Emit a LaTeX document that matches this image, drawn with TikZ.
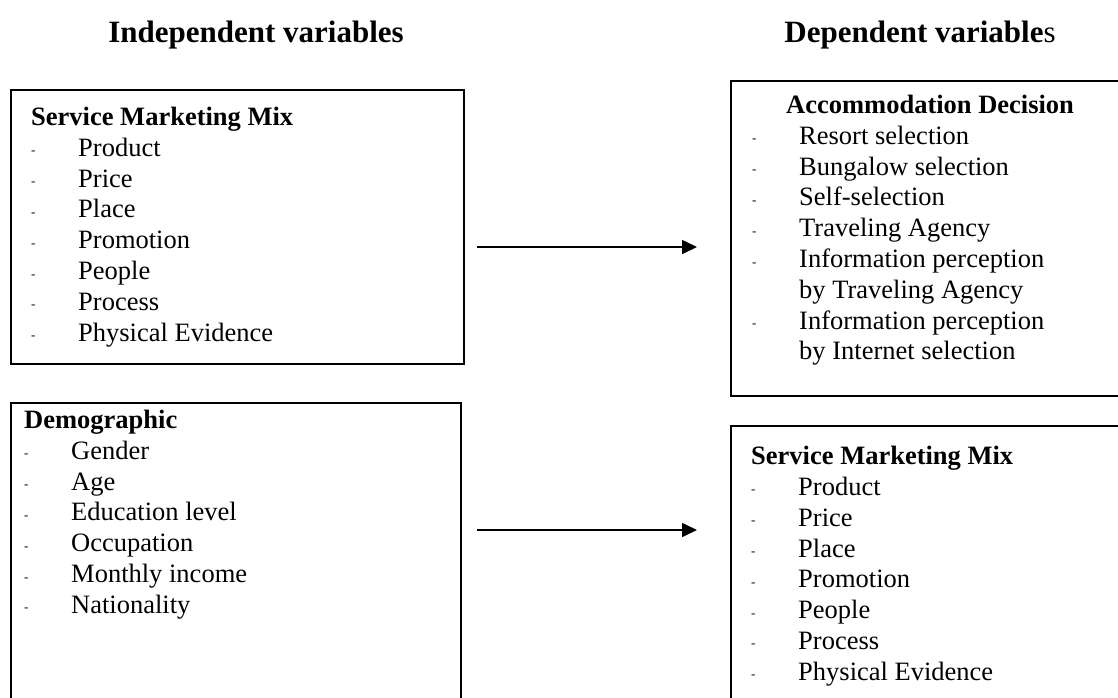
\documentclass[tikz,border=0pt]{standalone}
\usepackage{fontspec}
\setmainfont{Liberation Serif}
\usetikzlibrary{arrows.meta}

% list item: small dash, then the text
\newcommand{\itm}[1]{\makebox[47pt][l]{\raisebox{1.5pt}{\fontsize{13}{13}\selectfont -}}#1}
\newcommand{\cont}[1]{\hspace*{47pt}#1}

\tikzset{
  frame/.style={draw, line width=1.6pt, rectangle, inner sep=0pt, anchor=north west},
  heading/.style={font=\fontsize{31}{36}\selectfont\bfseries, inner sep=0pt},
  list/.style={font=\fontsize{26.5}{30.8}\selectfont, align=left, inner sep=0pt, anchor=north west},
  arr/.style={-{Triangle[length=15pt,width=14pt]}, line width=1.6pt},
}

\begin{document}
\begin{tikzpicture}[x=1pt,y=-1pt]
    \useasboundingbox (0,0) rectangle (1118,697);

    % headings
    \node[heading, anchor=base] (indep) at (256,42) {Independent variables};
    \node[heading, anchor=base] (dep) at (920,42) {Dependent variable\textmd{s}};

    % boxes
    \node[frame, minimum width=453pt, minimum height=274pt] (smm) at (10,89) {};
    \node[frame, minimum width=395pt, minimum height=315pt] (acc) at (730,80) {};
    \node[frame, minimum width=450pt, minimum height=303pt] (dem) at (10,402) {};
    \node[frame, minimum width=395pt, minimum height=280pt] (smm2) at (730,425) {};

    % box texts
    \node[list] (smmtxt) at (31,107) {\textbf{Service Marketing Mix}\\
        \itm{Product}\\ \itm{Price}\\ \itm{Place}\\ \itm{Promotion}\\
        \itm{People}\\ \itm{Process}\\ \itm{Physical Evidence}};
    \node[list] (acctxt) at (752,95) {\hspace*{34pt}\textbf{Accommodation Decision}\\
        \itm{Resort selection}\\ \itm{Bungalow selection}\\ \itm{Self-selection}\\
        \itm{Traveling Agency}\\ \itm{Information perception}\\ \cont{by Traveling Agency}\\
        \itm{Information perception}\\ \cont{by Internet selection}};
    \node[list] (demtxt) at (24,410) {\textbf{Demographic}\\
        \itm{Gender}\\ \itm{Age}\\ \itm{Education level}\\ \itm{Occupation}\\
        \itm{Monthly income}\\ \itm{Nationality}};
    \node[list] (smm2txt) at (751,446) {\textbf{Service Marketing Mix}\\
        \itm{Product}\\ \itm{Price}\\ \itm{Place}\\ \itm{Promotion}\\
        \itm{People}\\ \itm{Process}\\ \itm{Physical Evidence}};

    % arrows
    \coordinate (row1) at (0,247);
    \coordinate (row2) at (0,530);
    \draw[arr, shorten <=12pt, shorten >=33pt] (smm.east |- row1) -- (acc.west |- row1);
    \draw[arr, shorten <=15pt, shorten >=33pt] (dem.east |- row2) -- (smm2.west |- row2);
\end{tikzpicture}
\end{document}
